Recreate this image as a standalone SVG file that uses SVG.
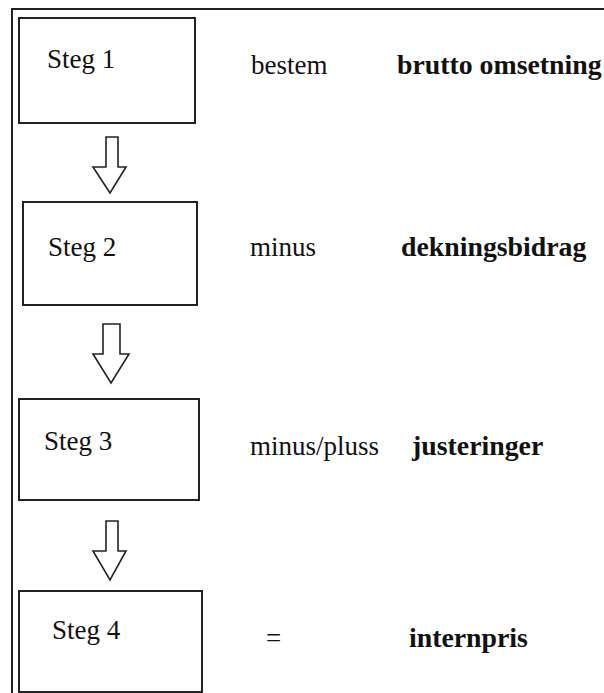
<svg xmlns="http://www.w3.org/2000/svg" width="604" height="693" viewBox="0 0 604 693">
  <style>
    .frame { fill: none; stroke: #222; stroke-width: 2; }
    .box { fill: #fff; stroke: #222; stroke-width: 2; }
    .arrow { fill: #fff; stroke: #222; stroke-width: 1.6; stroke-linejoin: miter; }
    text { font-family: "Liberation Serif", "Times New Roman", serif; font-size: 27px; fill: #111; }
    .b { font-weight: bold; font-size: 27.8px; }
  </style>
  <rect width="604" height="693" fill="#fff"/>
  <!-- outer frame, open to the right and bottom -->
  <path class="frame" d="M12,700 L12,9 L610,9"/>

  <g id="step1">
    <rect class="box" x="19" y="18" width="176" height="105"/>
    <text x="47" y="68">Steg 1</text>
  </g>
  <g id="step2">
    <rect class="box" x="23" y="202" width="174" height="103"/>
    <text x="48" y="256">Steg 2</text>
  </g>
  <g id="step3">
    <rect class="box" x="19" y="399" width="180" height="101"/>
    <text x="44" y="450">Steg 3</text>
  </g>
  <g id="step4">
    <rect class="box" x="19" y="591" width="183" height="101"/>
    <text x="52" y="639">Steg 4</text>
  </g>

  <g id="labels">
    <text x="251" y="74">bestem</text>
    <text class="b" x="397" y="74">brutto omsetning</text>
    <text x="250" y="256">minus</text>
    <text class="b" x="401" y="256">dekningsbidrag</text>
    <text x="250" y="455">minus/pluss</text>
    <text class="b" x="412" y="455">justeringer</text>
    <text x="266" y="647">=</text>
    <text class="b" x="409" y="647">internpris</text>
  </g>

  <g id="connectors">
    <polygon class="arrow" points="106,137 118,137 118,167 126,167 110,193 93,167 106,167"/>
    <polygon class="arrow" points="103,324 120,324 120,354 129,354 111,383 93,354 103,354"/>
    <polygon class="arrow" points="106,521 118,521 118,551 126,551 110,580 93,551 106,551"/>
  </g>
</svg>
